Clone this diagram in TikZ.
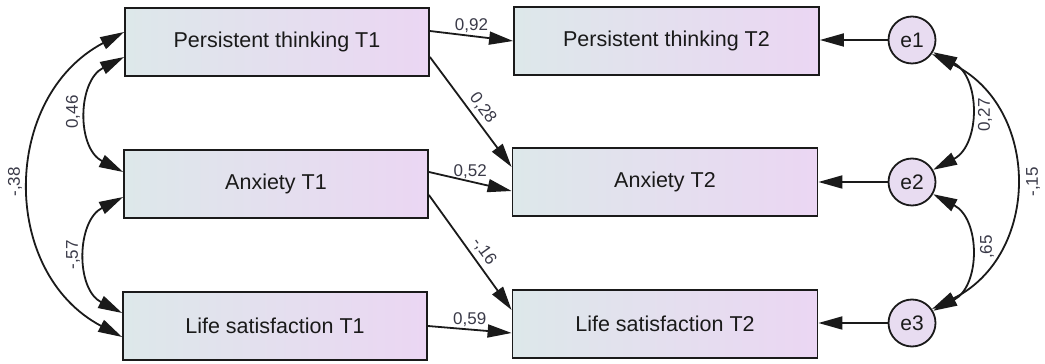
\documentclass[tikz,border=0pt]{standalone}
\usepackage{fontspec}
\setmainfont{Liberation Sans}
\usetikzlibrary{arrows.meta,calc}
\definecolor{boxL}{HTML}{DDE8EA}
\definecolor{boxR}{HTML}{EBD6F3}
\definecolor{circF}{HTML}{E8DCF1}
\definecolor{lineC}{HTML}{1A1A1A}
\definecolor{lblC}{HTML}{3A3A48}
\tikzset{
  varbox/.style={draw=lineC, line width=1.8pt, minimum width=304pt, minimum height=68pt,
    left color=boxL, right color=boxR, font=\fontsize{21.5}{25}\selectfont, text=lineC, inner sep=0pt},
  errc/.style={circle, draw=lineC, line width=1.8pt, fill=circF, minimum size=47pt, inner sep=0pt,
    font=\fontsize{21}{25}\selectfont, text=lineC},
  tip/.style={Triangle[length=24pt,width=13pt]},
  path/.style={draw=lineC, line width=1.8pt, -{Triangle[length=24pt,width=13pt]}},
  cov/.style={draw=lineC, line width=1.8pt, {Triangle[length=24pt,width=13pt]}-{Triangle[length=24pt,width=13pt]}},
  lbl/.style={font=\fontsize{17}{19}\selectfont, text=lblC, inner sep=1pt}
}
\begin{document}
\begin{tikzpicture}[x=1pt,y=1pt]
\useasboundingbox (0,0) rectangle (1045,364);
% variables
\node[varbox] (pt1) at (277,322) {Persistent thinking T1};
\node[varbox] (an1) at (276,180) {Anxiety T1};
\node[varbox] (ls1) at (275,38) {Life satisfaction T1};
\node[varbox, minimum width=305pt] (pt2) at (666.5,323) {Persistent thinking T2};
\node[varbox, minimum width=305pt] (an2) at (665,182) {Anxiety T2};
\node[varbox, minimum width=305pt] (ls2) at (665,40) {Life satisfaction T2};
\node[errc] (e1) at (912,324) {e1};
\node[errc] (e2) at (912,182) {e2};
\node[errc] (e3) at (912,41) {e3};
% regression paths
\draw[path] ($(pt1.east)+(0,11)$) -- (pt2.west) node[lbl, pos=0.5, above=1pt] {0,92};
\draw[path] ($(pt1.east)+(0,-15)$) -- ($(an2.west)+(0,15)$)
  node[lbl, pos=0.53, sloped, above=3pt] {0,28};
\draw[path] ($(an1.east)+(0,12)$) -- ($(an2.west)+(0,-9)$) node[lbl, pos=0.5, above=1pt] {0,52};
\draw[path] ($(an1.east)+(0,-11)$) -- ($(ls2.west)+(0,14)$)
  node[lbl, pos=0.55, sloped, above=3pt] {-,16};
\draw[path] (ls1.east) -- ($(ls2.west)+(0,-9)$) node[lbl, pos=0.5, above=1pt] {0,59};
% error paths
\draw[path] (e1) -- (e1 -| pt2.east);
\draw[path] (e2) -- (e2 -| an2.east);
\draw[path] (e3) -- (e3 -| ls2.east);
% left covariances
\coordinate (a1) at ($(pt1.west)+(0,10)$);
\coordinate (a2) at ($(ls1.west)+(0,-11)$);
\draw[cov] (a1) .. controls +(-122.7,-64.7) and +(-122.7,64.7) .. (a2);
\node[lbl, rotate=90] (l38) at (15,182) {-,38};
\coordinate (b1) at ($(pt1.west)+(0,-15)$);
\coordinate (b2) at ($(an1.west)+(0,12)$);
\draw[cov] (b1) .. controls +(-46.7,-24.1) and +(-46.7,24.1) .. (b2);
\node[lbl, rotate=90] (l46) at (73,252) {0,46};
\coordinate (c1) at ($(an1.west)+(0,-13)$);
\coordinate (c2) at ($(ls1.west)+(0,13)$);
\draw[cov] (c1) .. controls +(-46.7,-24.1) and +(-46.7,24.1) .. (c2);
\node[lbl, rotate=90] (l57) at (73,109) {-,57};
% right covariances
\draw[cov] (e1.-30) .. controls +(47.5,-24.9) and +(47.5,24.9) .. (e2.30);
\node[lbl, rotate=90] (l27) at (985,249) {0,27};
\draw[cov] (e2.-30) .. controls +(47.5,-24.9) and +(47.5,24.9) .. (e3.30);
\node[lbl, rotate=90] (l65) at (987,117) {,65};
\draw[cov] (e1.-35) .. controls +(109,-53.8) and +(109,53.8) .. (e3.35);
\node[lbl, rotate=90] (l15) at (1033,182) {-,15};
\end{tikzpicture}
\end{document}
